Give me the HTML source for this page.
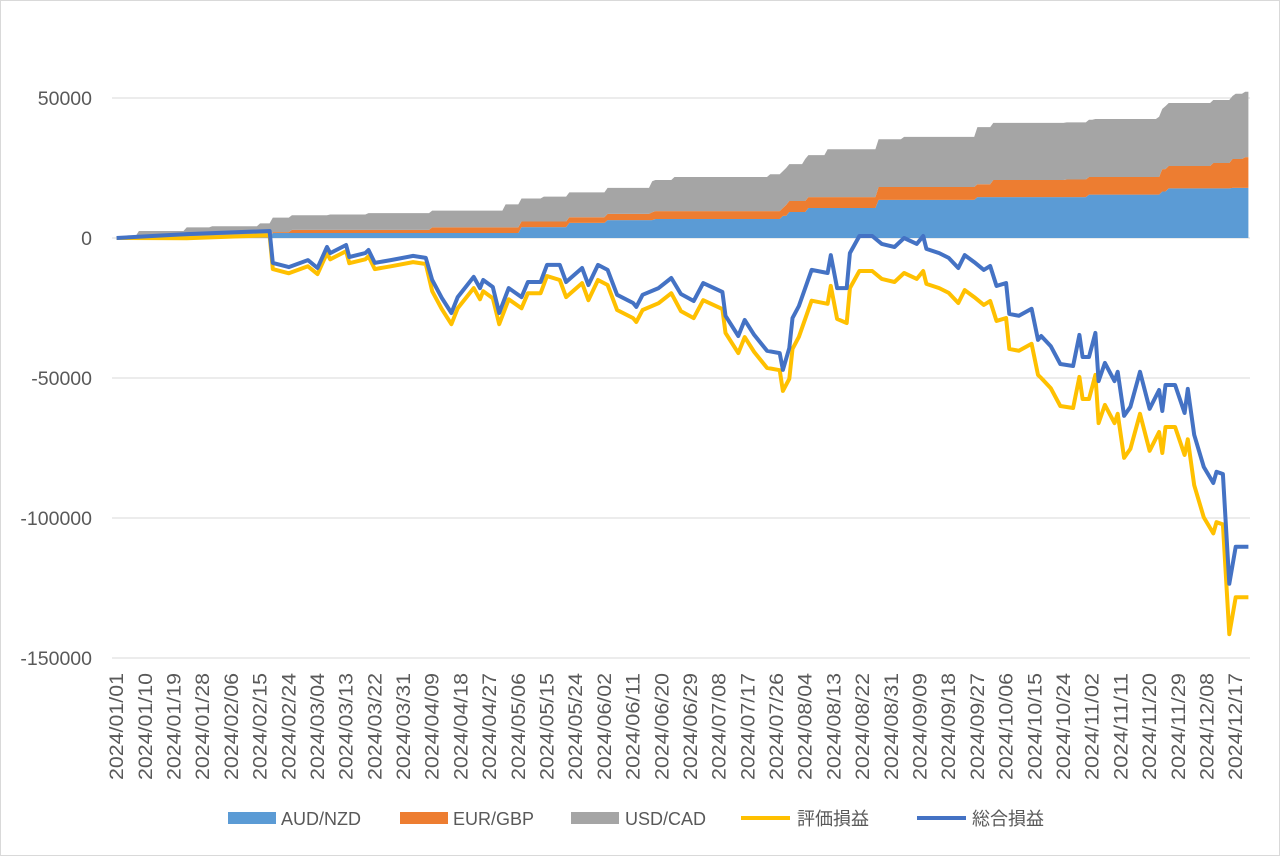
<!DOCTYPE html>
<html><head><meta charset="utf-8"><style>
html,body{margin:0;padding:0;background:#fff;}
svg{display:block;font-family:"Liberation Sans","Noto Sans CJK JP",sans-serif;}
</style></head><body>
<svg id="chart" width="1280" height="856" viewBox="0 0 1280 856" xmlns="http://www.w3.org/2000/svg">
<rect x="0.5" y="0.5" width="1279" height="855" fill="#fff" stroke="#d9d9d9"/>
<g id="grid"></g><g id="areas"></g><g id="lines"></g><g id="yaxis"></g><g id="xaxis"></g>
<g id="legend">
<rect x="228" y="812" width="48" height="12" fill="#5b9bd5"/>
<text x="281" y="825" font-size="18" fill="#595959">AUD/NZD</text>
<rect x="400" y="812" width="48" height="12" fill="#ed7d31"/>
<text x="453" y="825" font-size="18" fill="#595959">EUR/GBP</text>
<rect x="571" y="812" width="48" height="12" fill="#a5a5a5"/>
<text x="625" y="825" font-size="18" fill="#595959">USD/CAD</text>
<line x1="741" y1="818" x2="790" y2="818" stroke="#ffc000" stroke-width="4"/>
<text x="797" y="825" font-size="18" fill="#595959">評価損益</text>
<line x1="917" y1="818" x2="966" y2="818" stroke="#4472c4" stroke-width="4"/>
<text x="972" y="825" font-size="18" fill="#595959">総合損益</text>
</g>
</svg>
<script>
const N_DAYS = 356;
const yTicks = [50000, 0, -50000, -100000, -150000];
const audNzd = [[0,0],[49,1800],[127,3900],[142,5400],[154,6400],[169,6800],[209,7900],[211,9300],[217,10700],[239,13600],[270,14600],[305,15500],[328,16600],[330,17700],[350,17900]];
const eurGbp = [[0,0],[49,300],[55,1100],[99,2000],[154,2200],[168,2800],[210,3900],[239,4600],[275,6100],[298,6300],[328,8000],[344,9100],[350,10300],[354,11000]];
const usdCad = [[0,700],[7,2500],[22,3800],[30,4200],[45,5200],[67,5500],[79,6000],[122,8200],[134,8900],[154,9300],[168,11100],[175,12200],[205,13200],[216,15000],[223,17100],[247,17900],[270,20400],[307,20700],[327,21500],[329,22500],[351,23300]];
const totalPnl = [[0,0],[22,1400],[48,2500],[49,-8900],[54,-10400],[60,-7900],[63,-10700],[66,-3200],[67,-5400],[72,-2500],[73,-6800],[78,-5400],[79,-4300],[81,-8900],[86,-7900],[93,-6400],[97,-7100],[99,-15000],[102,-21400],[105,-26800],[107,-21100],[112,-13900],[114,-17900],[115,-15000],[118,-17500],[120,-26800],[123,-17900],[127,-21100],[129,-15700],[133,-15700],[135,-9600],[139,-9600],[141,-15700],[146,-10700],[148,-16800],[151,-9600],[154,-11400],[157,-20300],[162,-23200],[163,-24600],[165,-20300],[170,-17900],[174,-14300],[177,-20000],[181,-22500],[184,-16100],[190,-19300],[191,-27800],[195,-35000],[197,-29300],[200,-34600],[204,-40300],[208,-41100],[209,-47100],[211,-39300],[212,-28600],[214,-24300],[218,-11400],[223,-12500],[224,-6100],[226,-17900],[229,-17900],[230,-5400],[233,700],[237,700],[240,-2100],[244,-3200],[247,0],[251,-2100],[253,700],[254,-3900],[258,-5400],[261,-7100],[264,-10700],[266,-6100],[269,-8600],[272,-11400],[274,-10000],[276,-17100],[279,-16100],[280,-27100],[283,-27800],[287,-25300],[289,-36400],[290,-35000],[293,-38600],[296,-45000],[300,-45700],[302,-34600],[303,-42500],[305,-42500],[307,-33900],[308,-51100],[310,-44600],[313,-51100],[314,-47800],[316,-63500],[318,-60300],[321,-47800],[324,-61000],[327,-54300],[328,-61800],[329,-52500],[332,-52500],[335,-62500],[336,-53900],[338,-70300],[341,-81800],[344,-87500],[345,-83500],[347,-84300],[349,-123500],[351,-110300],[355,-110300]];
const unrealizedPnl = [[0,0],[22,-100],[48,1000],[49,-11100],[54,-12600],[60,-10100],[63,-12900],[66,-5400],[67,-7600],[72,-4700],[73,-9000],[78,-7600],[79,-6500],[81,-11100],[86,-10100],[93,-8600],[97,-9300],[99,-19000],[102,-25400],[105,-30800],[107,-25100],[112,-17900],[114,-21900],[115,-19000],[118,-21500],[120,-30800],[123,-21900],[127,-25100],[129,-19700],[133,-19700],[135,-13600],[139,-15000],[141,-21100],[146,-16100],[148,-22200],[151,-15000],[154,-16800],[157,-25700],[162,-28600],[163,-30000],[165,-25700],[170,-23300],[174,-19700],[177,-26100],[181,-28600],[184,-22200],[190,-25400],[191,-33900],[195,-41100],[197,-35400],[200,-40700],[204,-46400],[208,-47200],[209,-54600],[211,-50300],[212,-39600],[214,-35300],[218,-22400],[223,-23500],[224,-17100],[226,-28900],[229,-30400],[230,-17900],[233,-11800],[237,-11800],[240,-14600],[244,-15700],[247,-12500],[251,-14600],[253,-11800],[254,-16400],[258,-17900],[261,-19600],[264,-23200],[266,-18600],[269,-21100],[272,-23900],[274,-22500],[276,-29600],[279,-28600],[280,-39600],[283,-40300],[287,-37800],[289,-48900],[290,-50000],[293,-53600],[296,-60000],[300,-60700],[302,-49600],[303,-57500],[305,-57500],[307,-48900],[308,-66100],[310,-59600],[313,-66100],[314,-62800],[316,-78500],[318,-75300],[321,-62800],[324,-76000],[327,-69300],[328,-76800],[329,-67500],[332,-67500],[335,-77500],[336,-71900],[338,-88300],[341,-99800],[344,-105500],[345,-101500],[347,-102300],[349,-141500],[351,-128300],[355,-128300]];

const NS = 'http://www.w3.org/2000/svg';
const X0 = 115, X1 = 1250;
function xs(d){ return X0 + (d + 0.5) * (X1 - X0) / N_DAYS; }
function ys(v){ return 238 - v * 140 / 50000; }
function mk(tag, attrs, parent){ const e = document.createElementNS(NS, tag); for (const k in attrs) e.setAttribute(k, attrs[k]); parent.appendChild(e); return e; }
function stepAt(series, d){ let v = 0; for (const p of series) { if (p[0] <= d) v = p[1]; else break; } return v; }

const grid = document.getElementById('grid');
const yaxis = document.getElementById('yaxis');
yTicks.forEach(t => {
  const l = mk('line', {x1: 112, x2: X1, y1: ys(t), y2: ys(t), stroke: '#d9d9d9', 'stroke-width': 1}, grid);
  
  
  const tx = mk('text', {x: 92, y: ys(t) + 7, 'text-anchor': 'end', 'font-size': 19.5, fill: '#595959'}, yaxis);
  tx.textContent = String(t);
  
  
});

const areas = document.getElementById('areas');
const stacks = [[audNzd, '#5b9bd5', 'area-aud-nzd'], [eurGbp, '#ed7d31', 'area-eur-gbp'], [usdCad, '#a5a5a5', 'area-usd-cad']];
const base = new Array(N_DAYS).fill(0);
stacks.forEach(([ser, col, name]) => {
  const top = [];
  for (let d = 0; d < N_DAYS; d++) top.push(base[d] + stepAt(ser, d));
  let dd = '';
  for (let d = 0; d < N_DAYS; d++) dd += (d ? 'L' : 'M') + xs(d).toFixed(1) + ',' + ys(top[d]).toFixed(1);
  for (let d = N_DAYS - 1; d >= 0; d--) dd += 'L' + xs(d).toFixed(1) + ',' + ys(base[d]).toFixed(1);
  const p = mk('path', {d: dd + 'Z', fill: col}, areas);
  
  
  for (let d = 0; d < N_DAYS; d++) base[d] = top[d];
});

const lines = document.getElementById('lines');
[[unrealizedPnl, '#ffc000', 'line-unrealized-pnl'], [totalPnl, '#4472c4', 'line-total-pnl']].forEach(([ser, col, name]) => {
  const pts = ser.map(p => xs(p[0]).toFixed(1) + ',' + ys(p[1]).toFixed(1)).join(' ');
  const pl = mk('polyline', {points: pts, fill: 'none', stroke: col, 'stroke-width': 4, 'stroke-linejoin': 'round'}, lines);
  
  
});

const xaxis = document.getElementById('xaxis');
const start = Date.UTC(2024, 0, 1);
for (let d = 0; d < N_DAYS; d += 9) {
  const dt = new Date(start + d * 86400000);
  const s = dt.getUTCFullYear() + '/' + String(dt.getUTCMonth() + 1).padStart(2, '0') + '/' + String(dt.getUTCDate()).padStart(2, '0');
  const x = xs(d) + 6.5;
  const t = mk('text', {x: x, y: 673, 'text-anchor': 'end', 'font-size': 19, fill: '#595959', textLength: 107, lengthAdjust: 'spacingAndGlyphs', transform: 'rotate(-90 ' + x + ' 673)'}, xaxis);
  t.textContent = s;
  
  
}
</script>
</body></html>
